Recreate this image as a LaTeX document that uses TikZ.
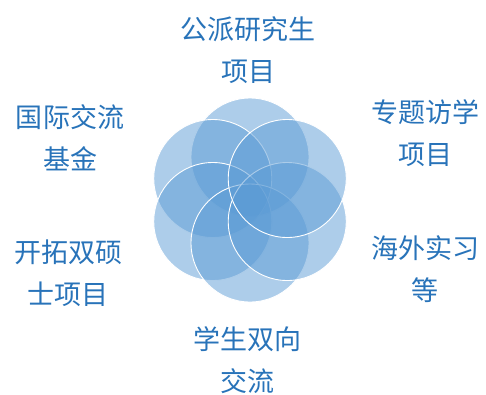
\documentclass[tikz,border=0pt]{standalone}
\usepackage{fontspec}
\newfontfamily\cjk{Noto Sans CJK SC}
\definecolor{petal}{RGB}{91,155,213}
\definecolor{labelblue}{RGB}{40,115,185}
\begin{document}
\begin{tikzpicture}[x=1pt,y=-1pt,
  petalstyle/.style={fill=petal,fill opacity=0.5,draw=white,draw opacity=1,line width=0.9pt},
  lbl/.style={text=labelblue,font=\cjk\fontsize{27}{42}\selectfont,align=center,inner sep=0pt}]
\useasboundingbox (0,0) rectangle (486,394);
\coordinate (c) at (250,200);
\foreach \a in {90,30,-30,-90,-150,150}{
  \path[petalstyle] (c) ++(\a:-43) circle[radius=59];
}
\node[lbl] (top) at (248,50) {公派研究生\\项目};
\node[lbl] (rt) at (425,133) {专题访学\\项目};
\node[lbl] (lt) at (70,138) {国际交流\\基金};
\node[lbl] (lb) at (68,273) {开拓双硕\\士项目};
\node[lbl] (rb) at (425,269) {海外实习\\等};
\node[lbl] (bot) at (247,360) {学生双向\\交流};
\end{tikzpicture}
\end{document}
